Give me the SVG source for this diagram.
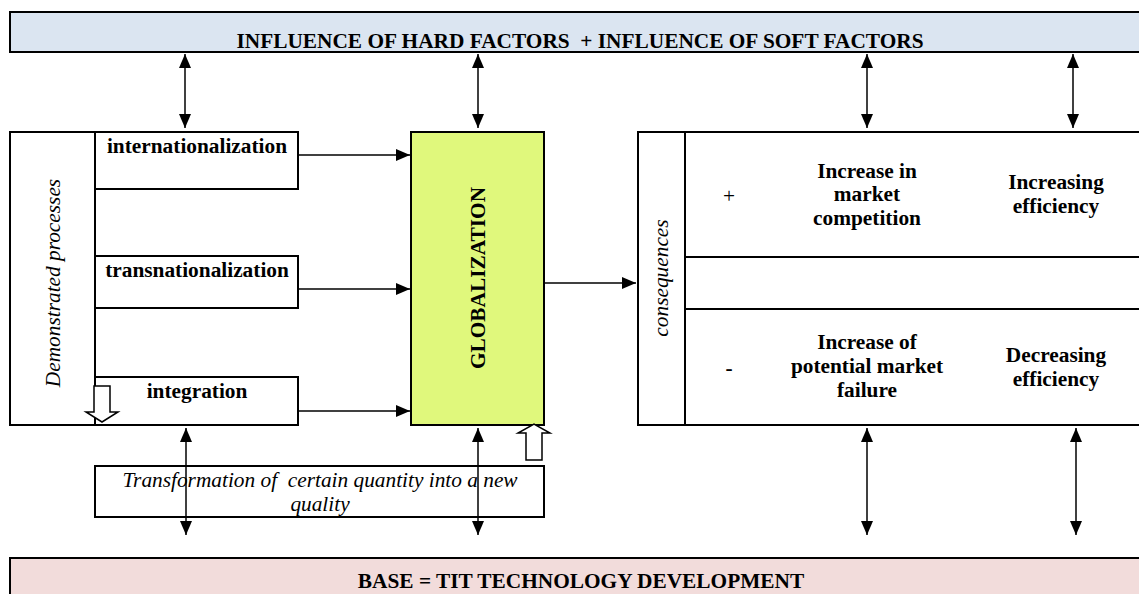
<svg xmlns="http://www.w3.org/2000/svg" width="1139" height="594" viewBox="0 0 1139 594">
<defs>
<marker id="ah" viewBox="0 0 14 12" refX="14" refY="6" markerWidth="14" markerHeight="12" markerUnits="userSpaceOnUse" orient="auto-start-reverse">
<path d="M0,0 L14,6 L0,12 Z" fill="#000"/>
</marker>
<style>
.box{fill:#fff;stroke:#000;stroke-width:2}
.ln{fill:none;stroke:#000;stroke-width:2}
.con{fill:none;stroke:#000;stroke-width:1.5}
.b{font-family:"Liberation Serif","Times New Roman",serif;font-weight:bold;font-size:21.33px;fill:#000;text-anchor:middle}
.i{font-family:"Liberation Serif","Times New Roman",serif;font-style:italic;font-size:21.33px;fill:#000;text-anchor:middle;white-space:pre}
.r{font-family:"Liberation Serif","Times New Roman",serif;font-size:21.33px;fill:#000;text-anchor:middle}
.hollow{fill:#fff;stroke:#000;stroke-width:1.5}
</style>
</defs>
<rect width="1139" height="594" fill="#fff"/>

<g id="top-bar">
<rect x="10" y="12" width="1140" height="40" fill="#dbe5f1" stroke="#000" stroke-width="2"/>
<text class="b" x="580" y="48" style="white-space:pre">INFLUENCE OF HARD FACTORS  + INFLUENCE OF SOFT FACTORS</text>
</g>

<g id="base-bar">
<rect x="10" y="558" width="1140" height="50" fill="#f2dcdb" stroke="#000" stroke-width="2"/>
<text class="b" x="581" y="588">BASE = TIT TECHNOLOGY DEVELOPMENT</text>
</g>

<g id="demonstrated-processes">
<rect class="box" x="10" y="132" width="85" height="293"/>
<text class="i" transform="translate(60,283) rotate(-90)">Demonstrated processes</text>
</g>

<g id="internationalization">
<rect class="box" x="95" y="132" width="203" height="57"/>
<text class="b" x="197" y="153">internationalization</text>
</g>

<g id="transnationalization">
<rect class="box" x="95" y="256" width="203" height="52"/>
<text class="b" x="197" y="277">transnationalization</text>
</g>

<g id="integration">
<rect class="box" x="95" y="377" width="203" height="48"/>
<text class="b" x="197" y="398">integration</text>
</g>

<g id="globalization">
<rect x="411" y="132" width="133" height="293" fill="#e0f87c" stroke="#000" stroke-width="2"/>
<text class="b" transform="translate(485,278) rotate(-90)">GLOBALIZATION</text>
</g>

<g id="transformation">
<rect class="box" x="95" y="466" width="449" height="51"/>
<text class="i" x="320" y="487">Transformation of  certain quantity into a new</text>
<text class="i" x="320" y="511">quality</text>
</g>

<g id="consequences">
<rect class="box" x="638" y="132" width="510" height="293"/>
<line class="ln" x1="685" y1="132" x2="685" y2="425"/>
<line class="ln" x1="685" y1="257" x2="1148" y2="257"/>
<line class="ln" x1="685" y1="309" x2="1148" y2="309"/>
<text class="i" transform="translate(668,278) rotate(-90)">consequences</text>
<text class="r" x="729" y="203">+</text>
<text class="b" x="729" y="375">-</text>
<text class="b" x="867" y="178">Increase in</text>
<text class="b" x="867" y="201">market</text>
<text class="b" x="867" y="225">competition</text>
<text class="b" x="1056" y="189">Increasing</text>
<text class="b" x="1056" y="213">efficiency</text>
<text class="b" x="867" y="349">Increase of</text>
<text class="b" x="867" y="373">potential market</text>
<text class="b" x="867" y="397">failure</text>
<text class="b" x="1056" y="362">Decreasing</text>
<text class="b" x="1056" y="386">efficiency</text>
</g>

<g id="hollow-arrows">
<path class="hollow" d="M94,386 H110 V412 H118 L102,422 L86,412 H94 Z"/>
<path class="hollow" d="M526,460 H542 V433 H550 L534,424 L518,433 H526 Z"/>
</g>

<g id="connectors">
<line class="con" x1="185" y1="54" x2="185" y2="128" marker-start="url(#ah)" marker-end="url(#ah)"/>
<line class="con" x1="478" y1="54" x2="478" y2="128" marker-start="url(#ah)" marker-end="url(#ah)"/>
<line class="con" x1="867" y1="54" x2="867" y2="128" marker-start="url(#ah)" marker-end="url(#ah)"/>
<line class="con" x1="1073" y1="54" x2="1073" y2="128" marker-start="url(#ah)" marker-end="url(#ah)"/>
<line class="con" x1="298" y1="155" x2="410" y2="155" marker-end="url(#ah)"/>
<line class="con" x1="298" y1="289" x2="410" y2="289" marker-end="url(#ah)"/>
<line class="con" x1="298" y1="411" x2="410" y2="411" marker-end="url(#ah)"/>
<line class="con" x1="544" y1="283" x2="636" y2="283" marker-end="url(#ah)"/>
<line class="con" x1="186" y1="428" x2="186" y2="535" marker-start="url(#ah)" marker-end="url(#ah)"/>
<line class="con" x1="478" y1="428" x2="478" y2="535" marker-start="url(#ah)" marker-end="url(#ah)"/>
<line class="con" x1="867" y1="428" x2="867" y2="535" marker-start="url(#ah)" marker-end="url(#ah)"/>
<line class="con" x1="1076" y1="428" x2="1076" y2="535" marker-start="url(#ah)" marker-end="url(#ah)"/>
</g>
</svg>
